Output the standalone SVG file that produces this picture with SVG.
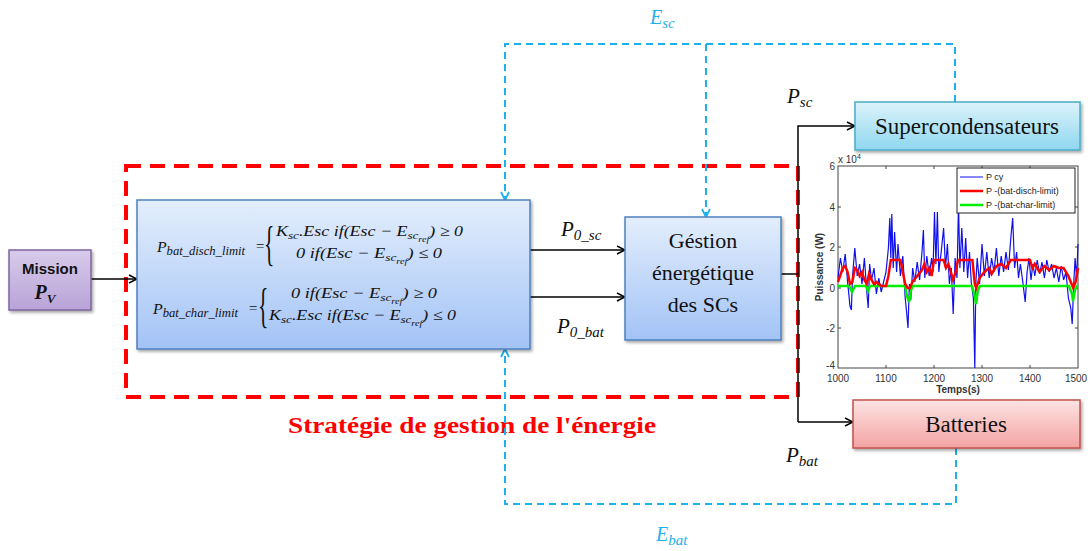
<svg xmlns="http://www.w3.org/2000/svg" width="1090" height="551" viewBox="0 0 1090 551">
<defs>
<style>
.blk{fill:none;stroke:#000;stroke-width:1.5}
.bd{fill:none;stroke:#1cb1ec;stroke-width:2;stroke-dasharray:7,5}
.rd{fill:none;stroke:#ff0000;stroke-width:4;stroke-dasharray:15,9}
.m{font-family:"Liberation Serif",serif;font-style:italic;font-size:15px;fill:#111}
.s{font-size:11px}
.s2{font-size:12px}
.ss{font-size:8.5px}
.lbl{font-family:"Liberation Serif",serif;font-style:italic;font-size:21px;fill:#111}
.blab{font-family:"Liberation Serif",serif;font-style:italic;font-size:20px;fill:#1cb1ec}
.nt{font-family:"Liberation Serif",serif;font-size:23px;fill:#111}
.tk{font-family:"Liberation Sans",Arial,sans-serif;font-size:10px;fill:#333}
.lg{font-family:"Liberation Sans",Arial,sans-serif;font-size:9px;fill:#222}
.br{font-family:"Liberation Serif",serif;font-size:48px;fill:#111}
</style>
<linearGradient id="gBlue" x1="0" y1="0" x2="0" y2="1"><stop offset="0" stop-color="#e3eefc"/><stop offset="1" stop-color="#a3c3f6"/></linearGradient>
<linearGradient id="gCyan" x1="0" y1="0" x2="0" y2="1"><stop offset="0" stop-color="#dcf3fb"/><stop offset="1" stop-color="#8fd7ef"/></linearGradient>
<linearGradient id="gRed" x1="0" y1="0" x2="0" y2="1"><stop offset="0" stop-color="#fde3e3"/><stop offset="1" stop-color="#f3a3a2"/></linearGradient>
<linearGradient id="gPur" x1="0" y1="0" x2="0" y2="1"><stop offset="0" stop-color="#d8cbea"/><stop offset="1" stop-color="#b9a3d8"/></linearGradient>
<filter id="sh" x="-10%" y="-10%" width="130%" height="140%"><feDropShadow dx="1.5" dy="2" stdDeviation="1.5" flood-color="#000" flood-opacity="0.35"/></filter>
<marker id="ak" markerWidth="10" markerHeight="10" refX="9" refY="5" orient="auto" markerUnits="userSpaceOnUse"><path d="M1,1 L9,5 L1,9" fill="none" stroke="#000" stroke-width="1.5"/></marker>
<marker id="ab" markerWidth="10" markerHeight="10" refX="9" refY="5" orient="auto" markerUnits="userSpaceOnUse"><path d="M1,1 L9,5 L1,9" fill="none" stroke="#1cb1ec" stroke-width="1.8"/></marker>
</defs>
<rect width="1090" height="551" fill="#fff"/>

<g id="strategy-frame">
<rect x="126" y="166" width="672" height="231" class="rd"/>
<text x="472" y="433" text-anchor="middle" font-family="Liberation Serif, serif" font-weight="bold" font-size="23" fill="#ff0000" textLength="368" lengthAdjust="spacingAndGlyphs">Stratégie de gestion de l'énergie</text>
</g>

<g id="connectors">
<path d="M91,279 H137" class="blk" marker-end="url(#ak)"/>
<path d="M530,250 H625" class="blk" marker-end="url(#ak)"/>
<path d="M530,297 H625" class="blk" marker-end="url(#ak)"/>
<path d="M781,274 H798" class="blk"/>
<path d="M798,422 V126 H855" class="blk" marker-end="url(#ak)"/>
<path d="M798,422 H853" class="blk" marker-end="url(#ak)"/>
<path d="M955,102 V44 H505 V200" class="bd" marker-end="url(#ab)"/>
<path d="M706,44 V217" class="bd" marker-end="url(#ab)"/>
<path d="M956,448 V504 H505 V349" class="bd" marker-end="url(#ab)"/>
<text x="650" y="24" class="blab">E<tspan font-size="15" dy="4">sc</tspan></text>
<text x="656" y="541" class="blab">E<tspan font-size="15" dy="4">bat</tspan></text>
<text x="787" y="103" class="lbl">P<tspan font-size="15" dy="4">sc</tspan></text>
<text x="786" y="462" class="lbl">P<tspan font-size="15" dy="4">bat</tspan></text>
<text x="561" y="236" class="lbl">P<tspan font-size="15" dy="4">0_sc</tspan></text>
<text x="557" y="333" class="lbl">P<tspan font-size="15" dy="4">0_bat</tspan></text>
</g>

<g id="mission">
<rect x="9" y="250" width="82" height="60" fill="url(#gPur)" stroke="#8064a2" stroke-width="1.5" filter="url(#sh)"/>
<text x="50" y="274" text-anchor="middle" font-family="Liberation Sans, Arial, sans-serif" font-weight="bold" font-size="15" fill="#111">Mission</text>
<text x="45" y="299" text-anchor="middle" font-family="Liberation Serif, serif" font-style="italic" font-weight="bold" font-size="20" fill="#111">P<tspan font-size="13" dy="4">V</tspan></text>
</g>

<g id="limits">
<rect x="137" y="200" width="393" height="149" fill="url(#gBlue)" stroke="#4f81bd" stroke-width="1.5" filter="url(#sh)"/>
<text x="157" y="252" class="m" textLength="88" lengthAdjust="spacingAndGlyphs">P<tspan class="s2" dy="3">bat_disch_limit</tspan></text>
<text x="255" y="251" class="m">=</text>
<text x="264" y="260" class="br" transform="translate(264,260) scale(0.45,1) translate(-264,-260)">{</text>
<text x="276" y="236" class="m" textLength="187" lengthAdjust="spacingAndGlyphs">K<tspan class="s" dy="3">sc</tspan><tspan dy="-3">.Esc  if(Esc − E</tspan><tspan class="s" dy="3">sc</tspan><tspan class="ss" dy="3">ref</tspan><tspan dy="-6">) ≥ 0</tspan></text>
<text x="296" y="258" class="m" textLength="146" lengthAdjust="spacingAndGlyphs">0  if(Esc − E<tspan class="s" dy="3">sc</tspan><tspan class="ss" dy="3">ref</tspan><tspan dy="-6">) ≤ 0</tspan></text>
<text x="153" y="314" class="m" textLength="85" lengthAdjust="spacingAndGlyphs">P<tspan class="s2" dy="3">bat_char_limit</tspan></text>
<text x="248" y="313" class="m">=</text>
<text x="258" y="322" class="br" transform="translate(258,322) scale(0.45,1) translate(-258,-322)">{</text>
<text x="291" y="298" class="m" textLength="146" lengthAdjust="spacingAndGlyphs">0  if(Esc − E<tspan class="s" dy="3">sc</tspan><tspan class="ss" dy="3">ref</tspan><tspan dy="-6">) ≥ 0</tspan></text>
<text x="269" y="320" class="m" textLength="187" lengthAdjust="spacingAndGlyphs">K<tspan class="s" dy="3">sc</tspan><tspan dy="-3">.Esc  if(Esc − E</tspan><tspan class="s" dy="3">sc</tspan><tspan class="ss" dy="3">ref</tspan><tspan dy="-6">) ≤ 0</tspan></text>
</g>

<g id="gestion">
<rect x="625" y="217" width="156" height="123" fill="url(#gBlue)" stroke="#4f81bd" stroke-width="1.5" filter="url(#sh)"/>
<text x="703" y="248" text-anchor="middle" class="nt" style="font-size:22px">Géstion</text>
<text x="703" y="280" text-anchor="middle" class="nt" style="font-size:22px">énergétique</text>
<text x="703" y="312" text-anchor="middle" class="nt" style="font-size:22px">des SCs</text>
</g>

<g id="supercondensateurs">
<rect x="855" y="102" width="225" height="48" fill="url(#gCyan)" stroke="#4bacc6" stroke-width="1.5" filter="url(#sh)"/>
<text x="967" y="134" text-anchor="middle" class="nt">Supercondensateurs</text>
</g>

<g id="batteries">
<rect x="853" y="400" width="227" height="48" fill="url(#gRed)" stroke="#c0504d" stroke-width="1.5" filter="url(#sh)"/>
<text x="966" y="432" text-anchor="middle" class="nt">Batteries</text>
</g>

<g id="plot">
<rect x="838" y="166" width="240" height="202" fill="#fff" stroke="#444" stroke-width="1"/>
<g stroke="#444" stroke-width="1">
<path d="M886,368 v-3 M934,368 v-3 M982,368 v-3 M1030,368 v-3 M886,166 v3 M934,166 v3 M982,166 v3 M1030,166 v3"/>
<path d="M838,207 h3 M838,247 h3 M838,288 h3 M838,328 h3 M1078,207 h-3 M1078,247 h-3 M1078,288 h-3 M1078,328 h-3"/>
</g>
<polyline fill="none" stroke="#1010ee" stroke-width="1.2" points="838,278 840.4,258 842.8,272 845.2,254 847.6,282 850,306 851.4,310 852.4,278 854.8,248 857.2,276 859.6,264 862,284 864.4,258 866.8,292 868.2,308 869.6,264 871.6,280 874,268 876.4,294 878.8,278 881.2,292 883.6,282 886,272 888.4,248 889.8,218 890.8,258 891.8,214 893.2,268 894.6,232 896.6,272 898,244 900.4,276 902.8,256 905.2,298 906.6,312 908,328 909.4,284 910.8,300 912.7,268 914.8,282 917.2,262 919.6,280 922,252 923.4,230 924.8,278 926.8,256 929.2,276 931.6,258 933,272 934.5,212 935.9,264 937.4,212 938.8,272 941.2,252 943.6,228 945.5,268 947.4,244 949.4,284 951.3,268 953.2,314 955.1,258 957,278 958.5,204 959.9,268 961.8,228 963.8,272 965.7,238 967.6,278 969.5,252 971.4,284 973.4,298 974.8,368 975.8,284 977.2,258 979.6,284 982,244 984.4,276 986.8,252 989.2,278 991.6,258 994,272 996.4,248 998.8,276 1001.2,256 1003.6,272 1006,252 1008.4,270 1010.8,238 1012.7,218 1014.6,268 1016.6,252 1018.5,278 1020.4,264 1022.8,282 1025.2,302 1027.1,272 1029,258 1031,280 1032.9,264 1034.8,276 1037.2,260 1039.6,274 1042,262 1044.4,278 1046.8,260 1049.2,272 1051.6,264 1054,278 1056.4,268 1058.8,282 1061.2,266 1063.6,280 1066,272 1068.4,298 1070.8,308 1072.2,324 1073.7,284 1075.1,258 1076.6,278 1078,244"/>
<polyline fill="none" stroke="#00ee00" stroke-width="2.5" points="838,286 849,286 852,292 855,286 866,286 868,291 870,286 905,286 907,296 909,302 911,290 913,286 972,286 975,297 976,304 978,290 980,286 1069,286 1072,294 1073,301 1075,290 1077,286 1078,286"/>
<polyline fill="none" stroke="#ff0000" stroke-width="2.5" points="838,282 842.8,268 845.2,266 847.6,272 850,284 852.4,282 854.8,268 857.2,270 859.6,276 862,272 864.4,280 866.8,284 869,274 871.6,280 874,284 876.4,282 881.2,286 886,286 888.4,276 890.8,260 900.4,260 902.8,272 905.2,284 907.6,288 910,288 912.4,282 917.2,276 922,270 924.4,264 926.8,272 929.2,268 931.6,276 934,260 943.6,260 946,268 948.4,264 953.2,280 955.6,272 958,260 972.4,260 974.8,284 976.2,288 979.6,278 984.4,272 989.2,268 991.6,274 996.4,266 1001.2,264 1006,268 1010.8,260 1030,260 1032.4,268 1034.8,264 1039.6,272 1044.4,266 1049.2,270 1054,266 1058.8,268 1063.6,268 1068.4,276 1073.2,288 1075.6,282 1078,268"/>
<rect x="957" y="168" width="118" height="45" fill="#fff" stroke="#222" stroke-width="1"/>
<line x1="960" y1="177" x2="983" y2="177" stroke="#1010ee" stroke-width="1"/>
<line x1="960" y1="191" x2="983" y2="191" stroke="#ff0000" stroke-width="2.5"/>
<line x1="960" y1="205" x2="983" y2="205" stroke="#00ee00" stroke-width="2.5"/>
<text x="986" y="180" class="lg">P cy</text>
<text x="986" y="194" class="lg">P -(bat-disch-limit)</text>
<text x="986" y="208" class="lg">P -(bat-char-limit)</text>
<text x="835" y="170" class="tk" text-anchor="end">6</text>
<text x="835" y="211" class="tk" text-anchor="end">4</text>
<text x="835" y="251" class="tk" text-anchor="end">2</text>
<text x="835" y="292" class="tk" text-anchor="end">0</text>
<text x="835" y="332" class="tk" text-anchor="end">-2</text>
<text x="835" y="369" class="tk" text-anchor="end">-4</text>
<text x="838" y="163" class="tk">x 10<tspan font-size="7" dy="-4">4</tspan></text>
<text x="838" y="382" class="tk" text-anchor="middle">1000</text>
<text x="886" y="382" class="tk" text-anchor="middle">1100</text>
<text x="934" y="382" class="tk" text-anchor="middle">1200</text>
<text x="982" y="382" class="tk" text-anchor="middle">1300</text>
<text x="1030" y="382" class="tk" text-anchor="middle">1400</text>
<text x="1076" y="382" class="tk" text-anchor="middle">1500</text>
<text x="958" y="393" class="tk" text-anchor="middle" font-weight="bold">Temps(s)</text>
<text x="0" y="0" class="tk" font-weight="bold" font-size="9" text-anchor="middle" transform="translate(823,267) rotate(-90)">Puissance (W)</text>
</g>
</svg>
